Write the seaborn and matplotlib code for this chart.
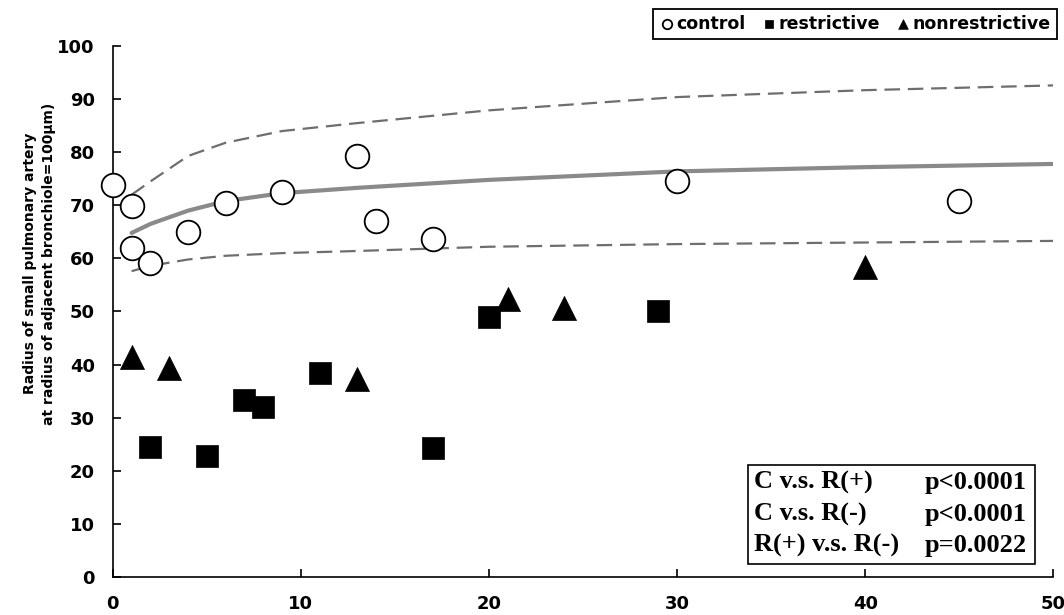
import matplotlib
matplotlib.use("Agg")
import matplotlib.pyplot as plt
from matplotlib.patches import Rectangle
import seaborn as sns

# measured points (x = age / follow-up, y = radius ratio)
control_x = [0, 1, 1, 2, 4, 6, 9, 13, 14, 17, 30, 45]
control_y = [73.8, 69.8, 62.0, 59.2, 64.9, 70.5, 72.5, 79.3, 67.0, 63.6, 74.6, 70.9]
restrictive_x = [2, 5, 7, 8, 11, 17, 20, 29]
restrictive_y = [24.5, 22.7, 33.4, 32.0, 38.5, 24.2, 48.9, 50.0]
nonrestrictive_x = [1, 3, 13, 21, 24, 40]
nonrestrictive_y = [41.5, 39.3, 37.2, 52.3, 50.6, 58.3]

# normal range curves
curve_x = [1, 2, 4, 6, 9, 13, 20, 30, 40, 50]
upper_y = [72.0, 74.5, 79.3, 81.8, 84.0, 85.5, 87.9, 90.4, 91.7, 92.6]
mean_y = [64.8, 66.5, 69.0, 70.8, 72.3, 73.3, 74.8, 76.4, 77.2, 77.8]
lower_y = [57.6, 58.6, 59.8, 60.5, 61.0, 61.4, 62.2, 62.7, 63.0, 63.3]

x_ticks = [0, 10, 20, 30, 40, 50]
y_ticks = [0, 10, 20, 30, 40, 50, 60, 70, 80, 90, 100]

stats_left = ["C v.s. R(+)", "C v.s. R(-)", "R(+) v.s. R(-)"]
stats_right = ["p<0.0001", "p<0.0001", "p=0.0022"]

sns.set_style("ticks")
plt.rcParams["font.family"] = ["DejaVu Sans"]
plt.rcParams["text.color"] = "black"
plt.rcParams["axes.labelcolor"] = "black"

fig = plt.figure(figsize=(10.64, 6.15), dpi=100)
ax = fig.add_axes([0.106, 0.062, 0.884, 0.863])

dash = (0, (7, 3.5))
sns.lineplot(x=curve_x, y=upper_y, ax=ax, color="#6e6e6e", linewidth=1.6, linestyle=dash)
sns.lineplot(x=curve_x, y=lower_y, ax=ax, color="#6e6e6e", linewidth=1.6, linestyle=dash)
sns.lineplot(x=curve_x, y=mean_y, ax=ax, color="#8a8a8a", linewidth=3.0)

sns.scatterplot(x=control_x, y=control_y, ax=ax, marker="o", s=290, facecolor="white",
                edgecolor="black", linewidth=1.3, zorder=3, label="control", legend=False,
                clip_on=False)
sns.scatterplot(x=restrictive_x, y=restrictive_y, ax=ax, marker="s", s=250, color="black",
                edgecolor="black", linewidth=0.5, zorder=3, label="restrictive", legend=False)
sns.scatterplot(x=nonrestrictive_x, y=nonrestrictive_y, ax=ax, marker="^", s=300, color="black",
                edgecolor="black", linewidth=0.5, zorder=3, label="nonrestrictive", legend=False)

ax.set_xlim(0, 50)
ax.set_ylim(0, 100)
ax.set_xticks(x_ticks)
ax.set_yticks(y_ticks)
ax.tick_params(axis="both", direction="in", length=6, width=1.2, labelsize=13, colors="black")
ax.tick_params(axis="x", pad=13)
ax.tick_params(axis="y", pad=13)
for lab in ax.get_xticklabels() + ax.get_yticklabels():
    lab.set_fontweight("bold")
sns.despine(ax=ax)
for side in ["left", "bottom"]:
    ax.spines[side].set_color("black")
    ax.spines[side].set_linewidth(1.2)

ax.set_xlabel("")
ax.set_ylabel("Radius of small pulmonary artery\nat radius of adjacent bronchiole=100\u03bcm)",
              fontsize=10, fontweight="bold", linespacing=1.5)
ax.yaxis.set_label_coords(-0.06, 0.59)

# statistics box
ax.add_patch(Rectangle((0.675, 0.024), 0.306, 0.186, transform=ax.transAxes,
                       facecolor="white", edgecolor="black", linewidth=1.2, zorder=4))
for i, (l, r) in enumerate(zip(stats_left, stats_right)):
    yy = 0.177 - i * 0.059
    ax.text(0.682, yy, l, transform=ax.transAxes, fontsize=19, fontweight="bold",
            family="Liberation Serif", va="center", ha="left", zorder=5, color="black")
    ax.text(0.972, yy, r, transform=ax.transAxes, fontsize=19, fontweight="bold",
            family="Liberation Serif", va="center", ha="right", zorder=5, color="black")

handles, labels = ax.get_legend_handles_labels()
leg = fig.legend(handles, labels, loc="upper right", bbox_to_anchor=(0.9935, 0.986), ncol=3,
                 markerscale=0.4, handletextpad=0.1, columnspacing=0.9, handlelength=0.9,
                 borderpad=0.35, borderaxespad=0, fancybox=False, framealpha=1,
                 edgecolor="black", prop={"weight": "bold", "size": 12.5})
leg.get_frame().set_linewidth(1.3)

fig.savefig("out.png", dpi=100)
